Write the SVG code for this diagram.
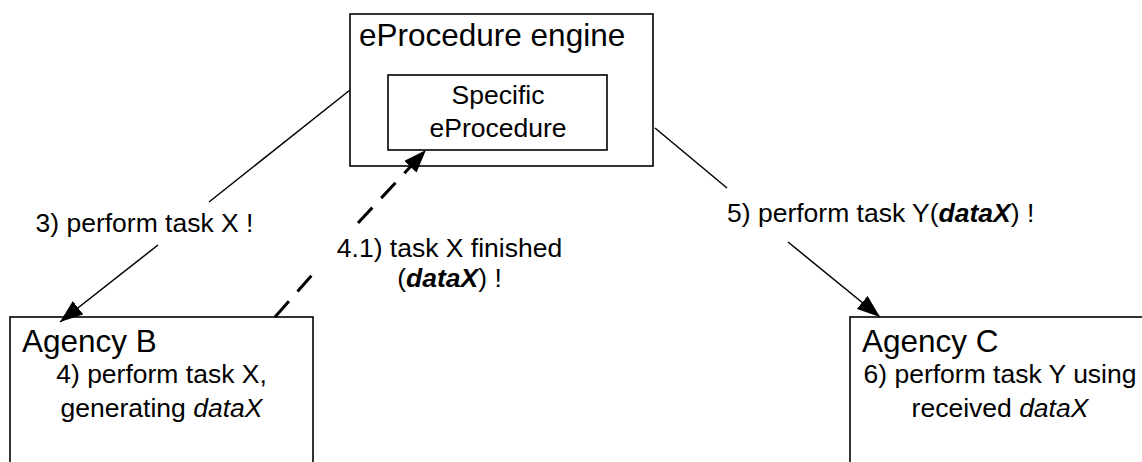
<svg xmlns="http://www.w3.org/2000/svg" width="1142" height="462" viewBox="0 0 1142 462">
<style>
.box{fill:#fff;stroke:#000;stroke-width:1.6}
.title{font-family:"Liberation Sans",Arial,sans-serif;font-size:31.5px;fill:#000}
.lbl{font-family:"Liberation Sans",Arial,sans-serif;font-size:26.5px;fill:#000}
.mid{text-anchor:middle}
.conn{fill:none;stroke:#000;stroke-width:1.5}
.dash{fill:none;stroke:#000;stroke-width:3;stroke-dasharray:21 13}
</style>
<defs>
<marker id="arr" markerUnits="userSpaceOnUse" markerWidth="23" markerHeight="17" refX="23" refY="8.5" orient="auto">
<path d="M0,0 L23,8.5 L0,17 z" fill="#000"/>
</marker>
</defs>
<rect width="1142" height="462" fill="#fff"/>
<g id="engine">
<rect class="box" x="350" y="14" width="303" height="152"/>
<text class="title" x="359" y="46">eProcedure engine</text>
</g>
<g id="specific">
<rect class="box" x="388" y="75" width="219" height="75"/>
<text class="lbl mid" x="498" y="104">Specific</text>
<text class="lbl mid" x="498" y="137">eProcedure</text>
</g>
<g id="agencyB">
<rect class="box" x="10" y="317" width="303" height="160"/>
<text class="title" x="22" y="352">Agency B</text>
<text class="lbl mid" x="161.5" y="383">4) perform task X,</text>
<text class="lbl mid" x="161.5" y="417">generating <tspan font-style="italic">dataX</tspan></text>
</g>
<g id="agencyC">
<rect class="box" x="850" y="317" width="302" height="160"/>
<text class="title" x="862" y="352">Agency C</text>
<text class="lbl mid" x="1000" y="383">6) perform task Y using</text>
<text class="lbl mid" x="1000" y="417">received <tspan font-style="italic">dataX</tspan></text>
</g>
<g id="connectors">
<path class="conn" d="M350,90 L209,202"/>
<path class="conn" d="M158,245 L60,322" marker-end="url(#arr)"/>
<path class="dash" d="M275,317 L312,275"/>
<path class="dash" d="M358,223 L426,150" marker-end="url(#arr)"/>
<path class="conn" d="M655,128 L727,188"/>
<path class="conn" d="M788,242 L880,317" marker-end="url(#arr)"/>
</g>
<g id="labels">
<text class="lbl mid" x="144.5" y="232">3) perform task X !</text>
<text class="lbl mid" x="449.5" y="257">4.1) task X finished</text>
<text class="lbl mid" x="449.5" y="287">(<tspan font-weight="bold" font-style="italic">dataX</tspan>) !</text>
<text class="lbl" x="727" y="222">5) perform task Y(<tspan font-weight="bold" font-style="italic">dataX</tspan>) !</text>
</g>
</svg>
